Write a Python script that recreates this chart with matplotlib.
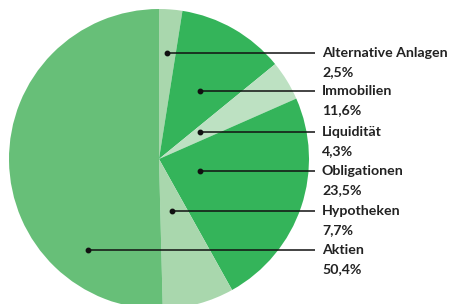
import numpy as np
import matplotlib.pyplot as plt

# ── Data ────────────────────────────────────────────────────────────────────
labels = ["Alternative Anlagen", "Immobilien", "Liquidität",
          "Obligationen", "Hypotheken", "Aktien"]
shares = [2.5, 11.6, 4.3, 23.5, 7.7, 50.4]          # percent
share_text = ["2,5%", "11,6%", "4,3%", "23,5%", "7,7%", "50,4%"]

# ── Layout (pixel coordinates, y measured from the bottom) ─────────────────
W, H = 451, 304
CENTER = (159, 145)
RADIUS = 150
colors = ["#a9d7ad", "#34b45a", "#bde1c2", "#34b45a", "#a9d7ad", "#67bf78"]
dot_x = [167, 200, 200, 200, 172, 88]
row_y = [251, 213, 172, 133, 93, 54]
LINE_END = 315
TEXT_X = 322
TEXT_COLOR = "#222222"

fig = plt.figure(figsize=(W / 100, H / 100), dpi=100)
ax = fig.add_axes([0, 0, 1, 1])

ax.pie(shares, colors=colors, startangle=90, counterclock=False,
       center=CENTER, radius=RADIUS, frame=True,
       wedgeprops=dict(linewidth=0))

for name, pct, x, y in zip(labels, share_text, dot_x, row_y):
    ax.plot([x, LINE_END], [y, y], color="#111111", lw=1.1,
            solid_capstyle="butt", zorder=3)
    ax.plot(x, y, "o", color="#111111", ms=3.2, zorder=4)
    ax.text(TEXT_X, y, name, ha="left", va="center", color=TEXT_COLOR,
            fontsize=10.2, fontfamily="Lato", fontweight="bold")
    ax.text(TEXT_X, y - 19.5, pct, ha="left", va="center", color=TEXT_COLOR,
            fontsize=10.2, fontfamily="Lato", fontweight="bold")

ax.set_xlim(0, W)
ax.set_ylim(0, H)
ax.set_aspect("equal")
ax.axis("off")

fig.savefig("out.png", dpi=100)
